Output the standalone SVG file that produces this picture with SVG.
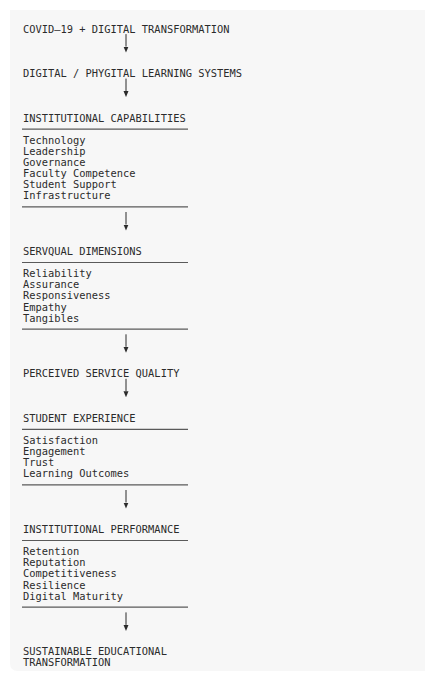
<svg xmlns="http://www.w3.org/2000/svg" width="425" height="675" viewBox="0 0 425 675">
<style>
text{font-family:"DejaVu Sans Mono","Liberation Mono",monospace;font-size:10.4px;fill:#2b2b2b}
.rule{stroke:#5a5a5a;stroke-width:1.2}
.conn{stroke:#2b2b2b;stroke-width:1;fill:none}
</style>
<defs>
<marker id="ah" markerUnits="userSpaceOnUse" markerWidth="6" markerHeight="6" viewBox="0 0 6 6" refX="0" refY="3" orient="auto">
<path d="M0,0.5 L6,3 L0,5.5 z" fill="#2b2b2b"/>
</marker>
</defs>
<rect width="425" height="675" fill="#ffffff"/>
<path d="M10,10 H425 V671 H18 Q10,671 10,663 Z" fill="#f7f7f7"/>
<g id="n1"><text x="23" y="32.5">COVID–19 + DIGITAL TRANSFORMATION</text></g>
<g id="n2"><text x="23" y="77">DIGITAL / PHYGITAL LEARNING SYSTEMS</text></g>
<g id="n3">
<text x="23" y="121.5">INSTITUTIONAL CAPABILITIES</text>
<line class="rule" x1="22" y1="129.1" x2="188" y2="129.1"/>
<text x="23" y="143.7">Technology</text>
<text x="23" y="154.8">Leadership</text>
<text x="23" y="165.9">Governance</text>
<text x="23" y="177.1">Faculty Competence</text>
<text x="23" y="188.2">Student Support</text>
<text x="23" y="199.3">Infrastructure</text>
<line class="rule" x1="22" y1="206.9" x2="188" y2="206.9"/>
</g>
<g id="n4">
<text x="23" y="254.9">SERVQUAL DIMENSIONS</text>
<line class="rule" x1="22" y1="262.5" x2="188" y2="262.5"/>
<text x="23" y="277.1">Reliability</text>
<text x="23" y="288.3">Assurance</text>
<text x="23" y="299.4">Responsiveness</text>
<text x="23" y="310.5">Empathy</text>
<text x="23" y="321.6">Tangibles</text>
<line class="rule" x1="22" y1="329.2" x2="188" y2="329.2"/>
</g>
<g id="n5"><text x="23" y="377.2">PERCEIVED SERVICE QUALITY</text></g>
<g id="n6">
<text x="23" y="421.7">STUDENT EXPERIENCE</text>
<line class="rule" x1="22" y1="429.3" x2="188" y2="429.3"/>
<text x="23" y="443.9">Satisfaction</text>
<text x="23" y="455.1">Engagement</text>
<text x="23" y="466.2">Trust</text>
<text x="23" y="477.3">Learning Outcomes</text>
<line class="rule" x1="22" y1="484.9" x2="188" y2="484.9"/>
</g>
<g id="n7">
<text x="23" y="532.9">INSTITUTIONAL PERFORMANCE</text>
<line class="rule" x1="22" y1="540.5" x2="188" y2="540.5"/>
<text x="23" y="555.1">Retention</text>
<text x="23" y="566.3">Reputation</text>
<text x="23" y="577.4">Competitiveness</text>
<text x="23" y="588.5">Resilience</text>
<text x="23" y="599.6">Digital Maturity</text>
<line class="rule" x1="22" y1="607.2" x2="188" y2="607.2"/>
</g>
<g id="n8">
<text x="23" y="654.8">SUSTAINABLE EDUCATIONAL</text>
<text x="23" y="665.9">TRANSFORMATION</text>
</g>
<g id="connectors">
<line class="conn" x1="126" y1="34.1" x2="126" y2="46.6" marker-end="url(#ah)"/>
<line class="conn" x1="126" y1="78.6" x2="126" y2="91.1" marker-end="url(#ah)"/>
<line class="conn" x1="126" y1="212" x2="126" y2="224.5" marker-end="url(#ah)"/>
<line class="conn" x1="126" y1="334.3" x2="126" y2="346.8" marker-end="url(#ah)"/>
<line class="conn" x1="126" y1="378.8" x2="126" y2="391.3" marker-end="url(#ah)"/>
<line class="conn" x1="126" y1="490" x2="126" y2="502.5" marker-end="url(#ah)"/>
<line class="conn" x1="126" y1="612.4" x2="126" y2="624.9" marker-end="url(#ah)"/>
</g>
</svg>
